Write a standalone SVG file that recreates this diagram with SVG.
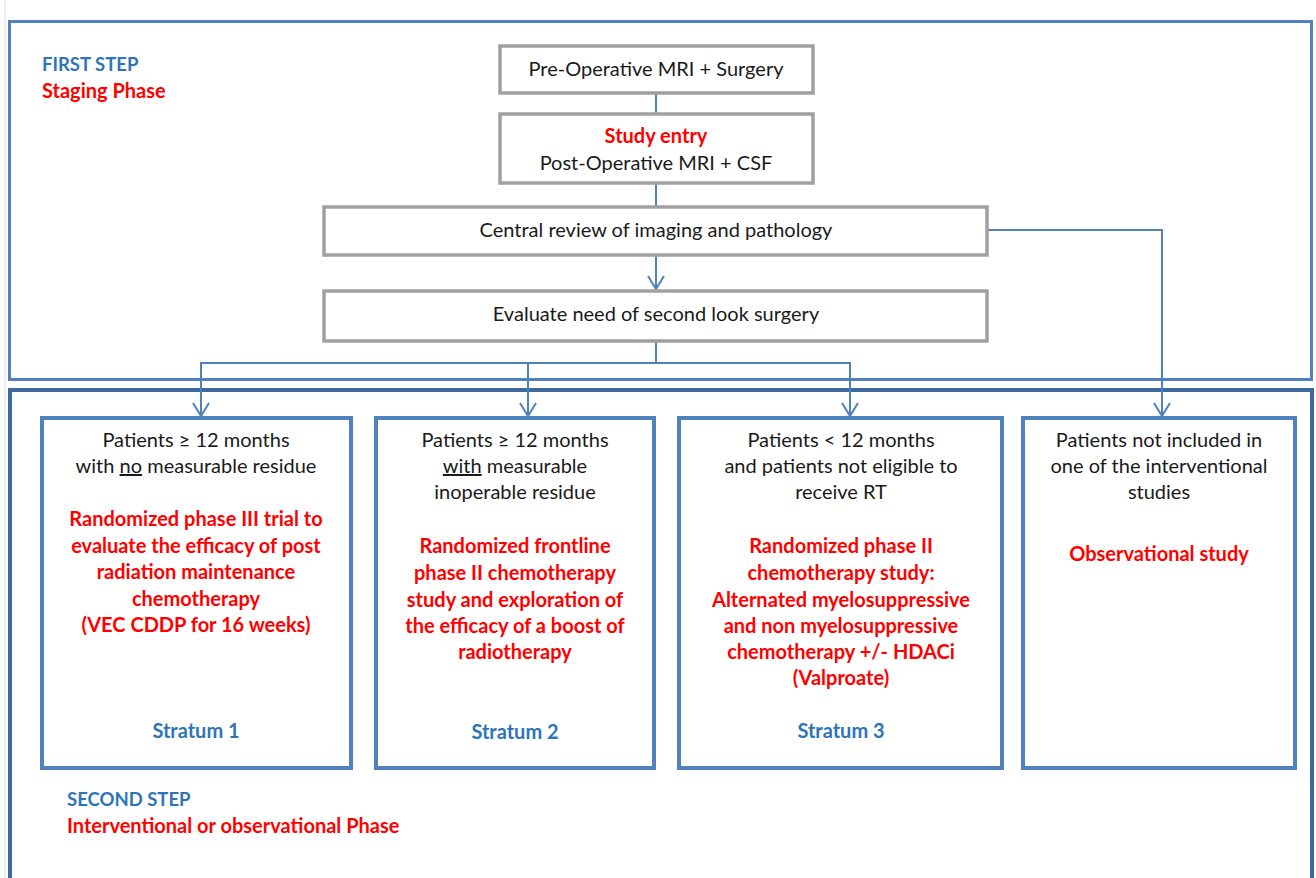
<svg xmlns="http://www.w3.org/2000/svg" width="1316" height="878" viewBox="0 0 1316 878">
<defs>
<style>
text{font-family:Lato,"Liberation Sans",sans-serif;font-size:20px;text-anchor:middle;fill:#1a1a1a}
.r{fill:#ff0000;font-weight:bold}
.b{fill:#2e75b6;font-weight:bold}
.h{font-size:18.5px}
.l{text-anchor:start}
.g{fill:#fff;stroke:#a0a0a0;stroke-width:3.5}
.s{fill:#fff;stroke:#4f81bd;stroke-width:4}
.c{fill:none;stroke:#4f81bd;stroke-width:2}
</style>
<marker id="ah" viewBox="0 0 16 18" refX="15" refY="9" markerWidth="16" markerHeight="18" markerUnits="userSpaceOnUse" orient="auto-start-reverse">
<path d="M2,1 L15,9 L2,17" fill="none" stroke="#4f81bd" stroke-width="2"/>
</marker>
</defs>
<rect width="1316" height="878" fill="#fff"/>
<line x1="5" y1="0" x2="5" y2="878" stroke="#e0e0e0" stroke-width="1"/>
<g id="first-step">
<rect x="9.5" y="21.5" width="1302" height="358" fill="#fff" stroke="#4f81bd" stroke-width="3"/>
<text class="b l h" x="42" y="71">FIRST STEP</text>
<text class="r l" x="42" y="98">Staging Phase</text>
</g>
<g id="second-step">
<rect x="10" y="390" width="1302" height="494" fill="#fff" stroke="#3f6a9e" stroke-width="4"/>
<text class="b l h" x="67" y="806">SECOND STEP</text>
<text class="r l" x="67" y="833">Interventional or observational Phase</text>
</g>
<g id="connectors">
<line class="c" x1="656" y1="93" x2="656" y2="114"/>
<line class="c" x1="656" y1="183" x2="656" y2="207"/>
<line class="c" x1="656" y1="255" x2="656" y2="289" marker-end="url(#ah)"/>
<polyline class="c" points="987,230 1162,230 1162,416" marker-end="url(#ah)"/>
<line class="c" x1="656" y1="341" x2="656" y2="363"/>
<polyline class="c" points="201,416 201,363 850,363 850,416" marker-start="url(#ah)" marker-end="url(#ah)"/>
<line class="c" x1="528" y1="363" x2="528" y2="416" marker-end="url(#ah)"/>
</g>
<g id="pre-op">
<rect class="g" x="500" y="46" width="313" height="47"/>
<text x="656" y="76">Pre-Operative MRI + Surgery</text>
</g>
<g id="study-entry">
<rect class="g" x="500" y="114" width="313" height="69"/>
<text class="r" x="656" y="143">Study entry</text>
<text x="656" y="170">Post-Operative MRI + CSF</text>
</g>
<g id="central-review">
<rect class="g" x="324" y="207" width="663" height="48"/>
<text x="656" y="237">Central review of imaging and pathology</text>
</g>
<g id="evaluate">
<rect class="g" x="324" y="291" width="663" height="50"/>
<text x="656" y="321">Evaluate need of second look surgery</text>
</g>
<g id="stratum1">
<rect class="s" x="42" y="418" width="309" height="350"/>
<text x="196" y="447">Patients ≥ 12 months</text>
<text x="196" y="473">with <tspan text-decoration="underline">no</tspan> measurable residue</text>
<text class="r" x="196" y="526">Randomized phase III trial to</text>
<text class="r" x="196" y="553">evaluate the efficacy of post</text>
<text class="r" x="196" y="579">radiation maintenance</text>
<text class="r" x="196" y="606">chemotherapy</text>
<text class="r" x="196" y="632">(VEC CDDP for 16 weeks)</text>
<text class="b" x="196" y="738">Stratum 1</text>
</g>
<g id="stratum2">
<rect class="s" x="376" y="418" width="278" height="350"/>
<text x="515" y="447">Patients ≥ 12 months</text>
<text x="515" y="473"><tspan text-decoration="underline">with</tspan> measurable</text>
<text x="515" y="499">inoperable residue</text>
<text class="r" x="515" y="553">Randomized frontline</text>
<text class="r" x="515" y="580">phase II chemotherapy</text>
<text class="r" x="515" y="607">study and exploration of</text>
<text class="r" x="515" y="633">the efficacy of a boost of</text>
<text class="r" x="515" y="659">radiotherapy</text>
<text class="b" x="515" y="739">Stratum 2</text>
</g>
<g id="stratum3">
<rect class="s" x="679" y="418" width="323" height="350"/>
<text x="841" y="447">Patients &lt; 12 months</text>
<text x="841" y="473">and patients not eligible to</text>
<text x="841" y="499">receive RT</text>
<text class="r" x="841" y="553">Randomized phase II</text>
<text class="r" x="841" y="580">chemotherapy study:</text>
<text class="r" x="841" y="607">Alternated myelosuppressive</text>
<text class="r" x="841" y="633">and non myelosuppressive</text>
<text class="r" x="841" y="659">chemotherapy +/- HDACi</text>
<text class="r" x="841" y="685">(Valproate)</text>
<text class="b" x="841" y="738">Stratum 3</text>
</g>
<g id="observational">
<rect class="s" x="1023" y="418" width="272" height="350"/>
<text x="1159" y="447">Patients not included in</text>
<text x="1159" y="473">one of the interventional</text>
<text x="1159" y="499">studies</text>
<text class="r" x="1159" y="561">Observational study</text>
</g>
</svg>
